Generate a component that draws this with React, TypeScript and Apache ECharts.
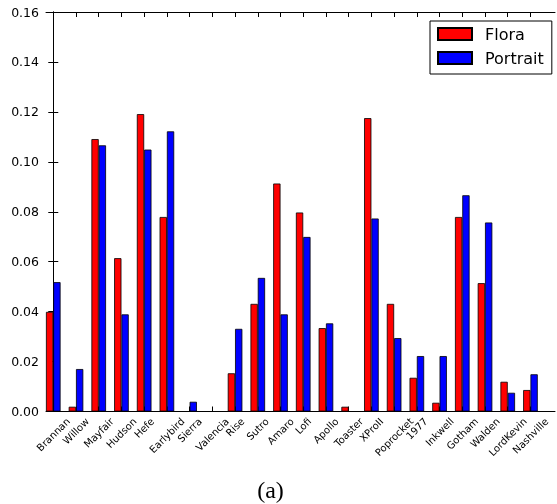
import React, { useEffect, useRef } from 'react';
import * as echarts from 'echarts';

const categories = ['Brannan', 'Willow', 'Mayfair', 'Hudson', 'Hefe', 'Earlybird', 'Sierra', 'Valencia', 'Rise', 'Sutro', 'Amaro', 'Lofi', 'Apollo', 'Toaster', 'XProII', 'Poprocket', '1977', 'Inkwell', 'Gotham', 'Walden', 'LordKevin', 'Nashville'];
const flora = [0.0399, 0.0019, 0.1091, 0.0614, 0.1191, 0.0779, 0, 0, 0.0153, 0.0431, 0.0913, 0.0797, 0.0334, 0.0019, 0.1175, 0.0431, 0.0135, 0.0035, 0.0779, 0.0514, 0.0119, 0.0086];
const portrait = [0.0518, 0.017, 0.1066, 0.0389, 0.1049, 0.1122, 0.0039, 0, 0.0331, 0.0535, 0.0389, 0.0699, 0.0353, 0, 0.0773, 0.0294, 0.0222, 0.0222, 0.0866, 0.0757, 0.0075, 0.0149];
const seriesNames = ['Flora', 'Portrait'];
const yMin = 0;
const yMax = 0.16;
const yStep = 0.02;
const caption = '(a)';

const FONT = '"DejaVu Sans", sans-serif';
const LABEL_SIZE = 10;

export default function App() {
  const ref = useRef<HTMLDivElement>(null);
  useEffect(() => {
    if (!ref.current) return;
    const chart = echarts.init(ref.current, null, { renderer: 'svg' });
    const canvas = document.createElement('canvas');
    const ctx = canvas.getContext('2d')!;
    ctx.font = `${LABEL_SIZE}px "DejaVu Sans"`;
    const h = LABEL_SIZE * 1.16;
    const rich: Record<string, any> = {};
    categories.forEach((c, i) => {
      const L = ctx.measureText(c).width;
      const P = (L + h) / 2;
      rich['c' + i] = { padding: [P, P, 0, 0], fontSize: LABEL_SIZE, fontFamily: FONT, color: '#000' };
    });
    const idx = categories.map((_, i) => i);
    const axisLineStyle = { color: '#000', width: 1 };
    chart.setOption({
      animation: false,
      grid: { left: 46, right: 2, top: 12, bottom: 92.5, containLabel: false },
      legend: {
        data: seriesNames,
        orient: 'vertical',
        left: 430,
        top: 21,
        icon: 'rect',
        itemWidth: 34,
        itemHeight: 12,
        itemGap: 8,
        padding: [5, 8, 8, 7],
        borderColor: '#000',
        borderWidth: 1,
        backgroundColor: '#fff',
        selectedMode: false,
        textStyle: { fontSize: 16, fontFamily: FONT, color: '#000', padding: [0, 0, 0, 8] },
      },
      xAxis: [
        {
          type: 'value',
          min: -0.32,
          max: 22.08,
          position: 'bottom',
          splitLine: { show: false },
          axisLine: { show: true, onZero: false, lineStyle: axisLineStyle },
          axisTick: { show: true, inside: true, length: 5, customValues: idx, lineStyle: axisLineStyle },
          axisLabel: {
            show: true,
            customValues: idx,
            rotate: 45,
            align: 'center',
            verticalAlign: 'middle',
            margin: 4,
            formatter: (v: number) => {
              const i = Math.round(v);
              return `{c${i}|${categories[i]}}`;
            },
            rich,
          },
        },
        {
          type: 'value',
          min: -0.32,
          max: 22.08,
          position: 'top',
          splitLine: { show: false },
          axisLine: { show: true, onZero: false, lineStyle: axisLineStyle },
          axisTick: { show: true, inside: true, length: 5, customValues: idx, lineStyle: axisLineStyle },
          axisLabel: { show: false },
        },
      ],
      yAxis: [
        {
          type: 'value',
          min: yMin,
          max: yMax,
          interval: yStep,
          position: 'left',
          splitLine: { show: false },
          axisLine: { show: true, lineStyle: axisLineStyle },
          axisTick: { show: true, inside: true, length: 5, lineStyle: axisLineStyle },
          axisLabel: {
            fontSize: 12.5,
            fontFamily: FONT,
            color: '#000',
            margin: 7,
            formatter: (v: number) => v.toFixed(2),
          },
        },
        {
          type: 'value',
          min: yMin,
          max: yMax,
          interval: yStep,
          position: 'right',
          splitLine: { show: false },
          axisLine: { show: true, lineStyle: axisLineStyle },
          axisTick: { show: true, inside: true, length: 5, lineStyle: axisLineStyle },
          axisLabel: { show: false },
        },
      ],
      series: [
        {
          name: seriesNames[0],
          type: 'bar',
          xAxisIndex: 0,
          yAxisIndex: 0,
          barWidth: 7.3,
          barGap: '0%',
          data: flora.map((v, i) => [i, v]),
          itemStyle: { color: '#ff0000', borderColor: '#000', borderWidth: 0.8 },
        },
        {
          name: seriesNames[1],
          type: 'bar',
          xAxisIndex: 0,
          yAxisIndex: 0,
          barWidth: 7.3,
          barGap: '0%',
          data: portrait.map((v, i) => [i, v]),
          itemStyle: { color: '#0000ff', borderColor: '#000', borderWidth: 0.8 },
        },
      ],
      graphic: [
        {
          type: 'text',
          x: 270.5,
          y: 490,
          style: {
            text: caption,
            fontSize: 24,
            fontFamily: '"Liberation Serif", serif',
            fill: '#000',
            textAlign: 'center',
            textVerticalAlign: 'middle',
          },
        },
      ],
    });
    return () => chart.dispose();
  }, []);
  return <div ref={ref} style={{ position: 'fixed', left: 0, top: 0, width: 557, height: 504 }} />;
}
